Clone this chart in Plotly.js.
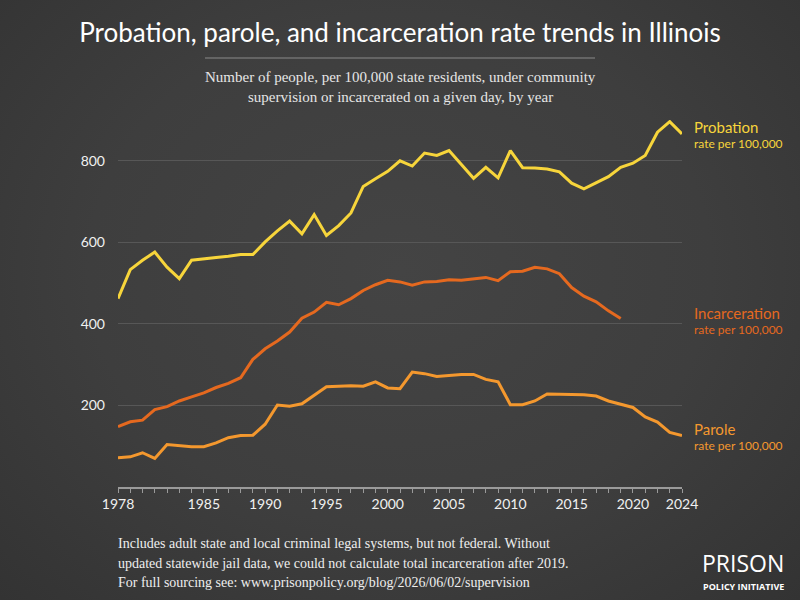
<!DOCTYPE html>
<html>
<head>
<meta charset="utf-8">
<script src="https://cdn.plot.ly/plotly-3.0.1.min.js"></script>
<style>
html,body{margin:0;padding:0;}
body{width:800px;height:600px;background:radial-gradient(ellipse at 50% 45%, #444444 0%, #3e3e3e 55%, #333333 100%);}
#chart{width:800px;height:600px;}
</style>
</head>
<body>
<div id="chart"></div>
<script>
const years = [];
for (let y = 1978; y <= 2024; y++) years.push(y);

const probation = [462,533,556,576,539,511,556,560,563,566,570,570,601,628,652,621,668,617,641,672,737,756,774,800,787,819,813,825,792,757,784,758,825,783,782,780,773,745,731,747,761,784,794,813,870,896,866];

const incarcerationYears = years.slice(0, 42); // 1978-2019
const incarceration = [148,160,164,190,197,211,221,231,244,254,268,313,339,358,380,414,429,453,447,462,482,496,507,503,495,503,504,508,507,510,514,506,528,529,539,535,523,489,468,454,432,413];

const parole = [72,74,84,70,104,101,99,99,108,121,126,127,154,201,198,204,224,246,247,248,247,258,243,241,282,278,271,273,276,276,264,258,202,202,211,228,228,227,226,223,211,203,195,172,159,134,126];

const xTickVals = [1978,1985,1990,1995,2000,2005,2010,2015,2020,2024];
const xTickText = xTickVals.map(String);
const yTickVals = [200,400,600,800];

const colProb = '#f7d53b';
const colInc = '#e5691f';
const colPar = '#f4982e';

// pixel -> paper helpers (plot area: x 118..682, y 120..487)
const L = 118, R = 682, T = 120, B = 487;
const px = x => (x - L) / (R - L);
const py = y => (B - y) / (B - T);

const traces = [
  {x: years, y: probation, mode: 'lines', line: {color: colProb, width: 3}, name: 'Probation'},
  {x: incarcerationYears, y: incarceration, mode: 'lines', line: {color: colInc, width: 3}, name: 'Incarceration'},
  {x: years, y: parole, mode: 'lines', line: {color: colPar, width: 3}, name: 'Parole'}
];

const serif = 'Liberation Serif, Times New Roman, serif';
const sans = 'Lato, Noto Sans, sans-serif';

function ann(text, x, y, opts) {
  return Object.assign({
    text: text, xref: 'paper', yref: 'paper', x: px(x), y: py(y),
    showarrow: false, xanchor: 'left', yanchor: 'middle'
  }, opts);
}

const annotations = [
  ann('Number of people, per 100,000 state residents, under community', 400, 77, {xanchor: 'center', font: {family: serif, size: 15, color: '#e6e6e6'}}),
  ann('supervision or incarcerated on a given day, by year', 400, 97, {xanchor: 'center', font: {family: serif, size: 15, color: '#e6e6e6'}}),
  ann('Probation', 692, 127, {font: {family: sans, size: 15, color: colProb}}),
  ann('rate per 100,000', 692, 143, {font: {family: sans, size: 12, color: colProb}}),
  ann('Incarceration', 692, 313, {font: {family: sans, size: 15, color: colInc}}),
  ann('rate per 100,000', 692, 329, {font: {family: sans, size: 12, color: colInc}}),
  ann('Parole', 692, 429, {font: {family: sans, size: 15, color: colPar}}),
  ann('rate per 100,000', 692, 445, {font: {family: sans, size: 12, color: colPar}}),
  ann('Includes adult state and local criminal legal systems, but not federal. Without', 116, 543, {font: {family: serif, size: 14, color: '#eeeeee'}}),
  ann('updated statewide jail data, we could not calculate total incarceration after 2019.', 116, 563, {font: {family: serif, size: 14, color: '#eeeeee'}}),
  ann('For full sourcing see: www.prisonpolicy.org/blog/2026/06/02/supervision', 116, 582, {font: {family: serif, size: 14, color: '#eeeeee'}}),
  ann('PRISON', 743, 563, {xanchor: 'center', font: {family: 'Open Sans, sans-serif', size: 23, color: '#ffffff'}}),
  ann('<b>POLICY INITIATIVE</b>', 743, 586, {xanchor: 'center', font: {family: 'Open Sans, sans-serif', size: 9, color: '#ffffff'}})
];

const layout = {
  width: 800, height: 600,
  margin: {l: L, r: 800 - R, t: T, b: 600 - B},
  paper_bgcolor: 'rgba(0,0,0,0)',
  plot_bgcolor: 'rgba(0,0,0,0)',
  showlegend: false,
  title: {text: 'Probation, parole, and incarceration rate trends in Illinois', x: 0.5, xanchor: 'center', y: 1 - 33/600, yanchor: 'middle', font: {family: sans, size: 26, color: '#ffffff'}},
  xaxis: {
    range: [1978, 2024], tickvals: xTickVals, ticktext: xTickText,
    showgrid: false, zeroline: false, showline: true, linecolor: '#9a9a9a', linewidth: 1.5,
    ticks: 'outside', ticklen: 4, tickcolor: '#9a9a9a', tickwidth: 1,
    minor: {dtick: 1, ticks: 'outside', ticklen: 4, tickcolor: '#9a9a9a', showgrid: false},
    tickfont: {family: sans, size: 14, color: '#f0f0f0'}, fixedrange: true
  },
  yaxis: {
    range: [0, 900], tickvals: yTickVals, showgrid: true, gridcolor: '#575757', gridwidth: 1,
    zeroline: false, showline: false, ticks: '', ticklabelstandoff: 12,
    tickfont: {family: sans, size: 14, color: '#f0f0f0'}, fixedrange: true
  },
  shapes: [
    {type: 'line', xref: 'paper', yref: 'paper', x0: px(205), x1: px(595), y0: py(58), y1: py(58), line: {color: '#8a8a8a', width: 1}}
  ],
  annotations: annotations
};

Plotly.newPlot('chart', traces, layout, {displayModeBar: false, staticPlot: true});
</script>
</body>
</html>
